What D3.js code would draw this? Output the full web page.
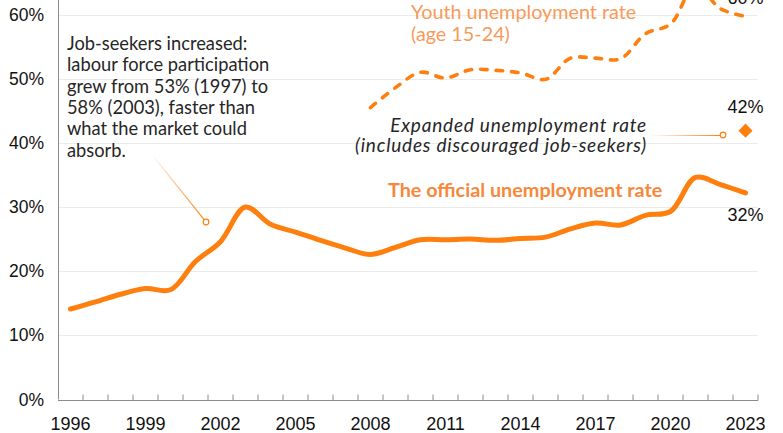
<!DOCTYPE html>
<html><head><meta charset="utf-8">
<script src="https://cdn.jsdelivr.net/npm/d3@7"></script>
<style>html,body{margin:0;padding:0;background:#fff;overflow:hidden}</style>
</head><body>
<svg id="c" width="783" height="433"></svg>
<script>
const years = d3.range(1996, 2024);
const tickYears = [1996,1999,2002,2005,2008,2011,2014,2017,2020,2023];
const yTicks = [0,10,20,30,40,50,60];
const officialRate = [14.1,15.2,16.4,17.3,17.1,21.5,24.6,30.0,27.3,26.1,24.8,23.6,22.6,23.7,24.9,24.9,25.0,24.8,25.1,25.3,26.6,27.5,27.2,28.7,29.3,34.6,33.5,32.2];
const youthYears = d3.range(2008, 2024);
const youthRate = [45.5,48.6,51.0,50.1,51.4,51.3,50.9,49.9,53.2,53.2,53.1,57.0,58.5,64.5,60.9,59.7];
const expandedYear = 2023, expandedRate = 41.9;

const svg = d3.select('#c');
const x = d3.scaleLinear().domain([1995.5, 2023.5]).range([58, 758]);
const y = d3.scaleLinear().domain([0, 60]).range([399.5, 14.5]);
const ORANGE = '#ff7f0e';
const axisFont = '"Liberation Sans", Arial, sans-serif';
const textFont = 'Lato, "Open Sans", sans-serif';

// gridlines
svg.append('g').selectAll('line').data(yTicks.filter(d=>d>0)).join('line')
  .attr('x1', x(1995.5)).attr('x2', x(2023.5))
  .attr('y1', d=>Math.round(y(d))+0.5).attr('y2', d=>Math.round(y(d))+0.5)
  .attr('stroke', '#ebebeb').attr('stroke-width', 1);

// y axis labels
svg.append('g').selectAll('text').data(yTicks).join('text')
  .attr('x', 44).attr('y', d=>y(d)).attr('dy', '0.35em')
  .attr('text-anchor','end').attr('font-family', axisFont).attr('font-size', 17.5)
  .attr('fill', '#111').text(d=>d+'%');

// y axis line
svg.append('line').attr('x1', 58.5).attr('x2', 58.5).attr('y1', 0).attr('y2', y(0))
  .attr('stroke', '#8c8c8c').attr('stroke-width', 1);

// x axis with inward ticks at category boundaries
const xAxisG = svg.append('g').attr('transform', `translate(0,${Math.round(y(0))+0.5})`);
xAxisG.append('line').attr('x1', 58).attr('x2', 758).attr('stroke', '#8c8c8c');
xAxisG.selectAll('line.t').data(d3.range(1996.5, 2024.5, 1)).join('line').attr('class','t')
  .attr('x1', d=>x(d)).attr('x2', d=>x(d)).attr('y1', 0).attr('y2', -6)
  .attr('stroke', '#8c8c8c');
xAxisG.selectAll('text').data(tickYears).join('text')
  .attr('x', d=>x(d)).attr('y', 29).attr('text-anchor','middle')
  .attr('font-family', axisFont).attr('font-size', 18).attr('fill', '#111').text(d=>d);

// gradients for connectors
const defs = svg.append('defs');
function grad(id, x1,y1,x2,y2){
  const g = defs.append('linearGradient').attr('id', id).attr('gradientUnits','userSpaceOnUse')
    .attr('x1',x1).attr('y1',y1).attr('x2',x2).attr('y2',y2);
  g.append('stop').attr('offset','0%').attr('stop-color', ORANGE).attr('stop-opacity', 0.05);
  g.append('stop').attr('offset','100%').attr('stop-color', ORANGE).attr('stop-opacity', 1);
}

const line = d3.line().curve(d3.curveCatmullRom.alpha(0.5));

// official line
svg.append('path')
  .attr('d', line(years.map((yr,i)=>[x(yr), y(officialRate[i])])))
  .attr('fill','none').attr('stroke', ORANGE).attr('stroke-width', 5).attr('stroke-linecap','round');

// youth line
svg.append('path')
  .attr('d', line(youthYears.map((yr,i)=>[x(yr), y(youthRate[i])])))
  .attr('fill','none').attr('stroke', ORANGE).attr('stroke-width', 3.6)
  .attr('stroke-dasharray','6.5,9').attr('stroke-linecap','round');

// expanded diamond
svg.append('path').attr('d', d3.symbol(d3.symbolSquare, 100)())
  .attr('transform', `translate(${x(expandedYear)},${y(expandedRate)}) rotate(45)`)
  .attr('fill', ORANGE);

// end labels
const endLabels = [
  {v: officialRate[officialRate.length-1], t: '32%', dy: 28},
  {v: expandedRate, t: '42%', dy: -18},
  {v: youthRate[youthRate.length-1], t: '60%', dy: -12}
];
svg.append('g').selectAll('text').data(endLabels).join('text')
  .attr('x', x(2023)).attr('y', d=>y(d.v)+d.dy).attr('text-anchor','middle')
  .attr('font-family', axisFont).attr('font-size', 18).attr('fill','#111').text(d=>d.t);

// series labels
svg.append('text').attr('x', 388).attr('y', 197)
  .attr('font-family', textFont).attr('font-size', 19.8).attr('font-weight', 'bold')
  .attr('fill', '#f7883b').text('The official unemployment rate');

const yl = svg.append('text').attr('font-family', textFont).attr('font-size', 19.8).attr('fill', '#f79a5a');
yl.append('tspan').attr('x', 411).attr('y', 19).text('Youth unemployment rate');
yl.append('tspan').attr('x', 411).attr('y', 41).text('(age 15-24)');

const el = svg.append('text').attr('font-family', textFont).attr('font-size', 19)
  .attr('font-style','italic').attr('fill', '#262626').attr('text-anchor','end');
const t1 = el.append('tspan').attr('x', 647).attr('y', 132).text('Expanded unemployment rate');
const t2 = el.append('tspan').attr('x', 647).attr('y', 152).text('(includes discouraged job-seekers)');
// widen italic annotation slightly to match reference width (~292px)
const w2 = t2.node().getComputedTextLength();
const ls = Math.max(0, Math.min(1, (292 - w2) / 34));
el.attr('letter-spacing', ls);

// expanded connector
grad('g1', 653, 135, 722, 135);
svg.append('line').attr('x1', 653).attr('y1', 135.5).attr('x2', 720).attr('y2', 135.5)
  .attr('stroke', 'url(#g1)').attr('stroke-width', 1.2);
svg.append('circle').attr('cx', 723).attr('cy', 135).attr('r', 2.8)
  .attr('fill','#fff').attr('stroke', ORANGE).attr('stroke-width', 1.2);

// job-seekers annotation
const jl = ['Job-seekers increased:','labour force participation','grew from 53% (1997) to','58% (2003), faster than','what the market could','absorb.'];
svg.append('g').selectAll('text').data(jl).join('text')
  .attr('x', 67).attr('y', (d,i)=>50 + i*21.3)
  .attr('font-family', textFont).attr('font-size', 18.3).attr('fill', '#262626').text(d=>d);
grad('g2', 154, 157, 206, 222);
svg.append('line').attr('x1', 154).attr('y1', 157).attr('x2', 204.3).attr('y2', 219.8)
  .attr('stroke', 'url(#g2)').attr('stroke-width', 1.2);
svg.append('circle').attr('cx', 206).attr('cy', 222).attr('r', 2.8)
  .attr('fill','#fff').attr('stroke', ORANGE).attr('stroke-width', 1.2);
</script>
</body></html>
